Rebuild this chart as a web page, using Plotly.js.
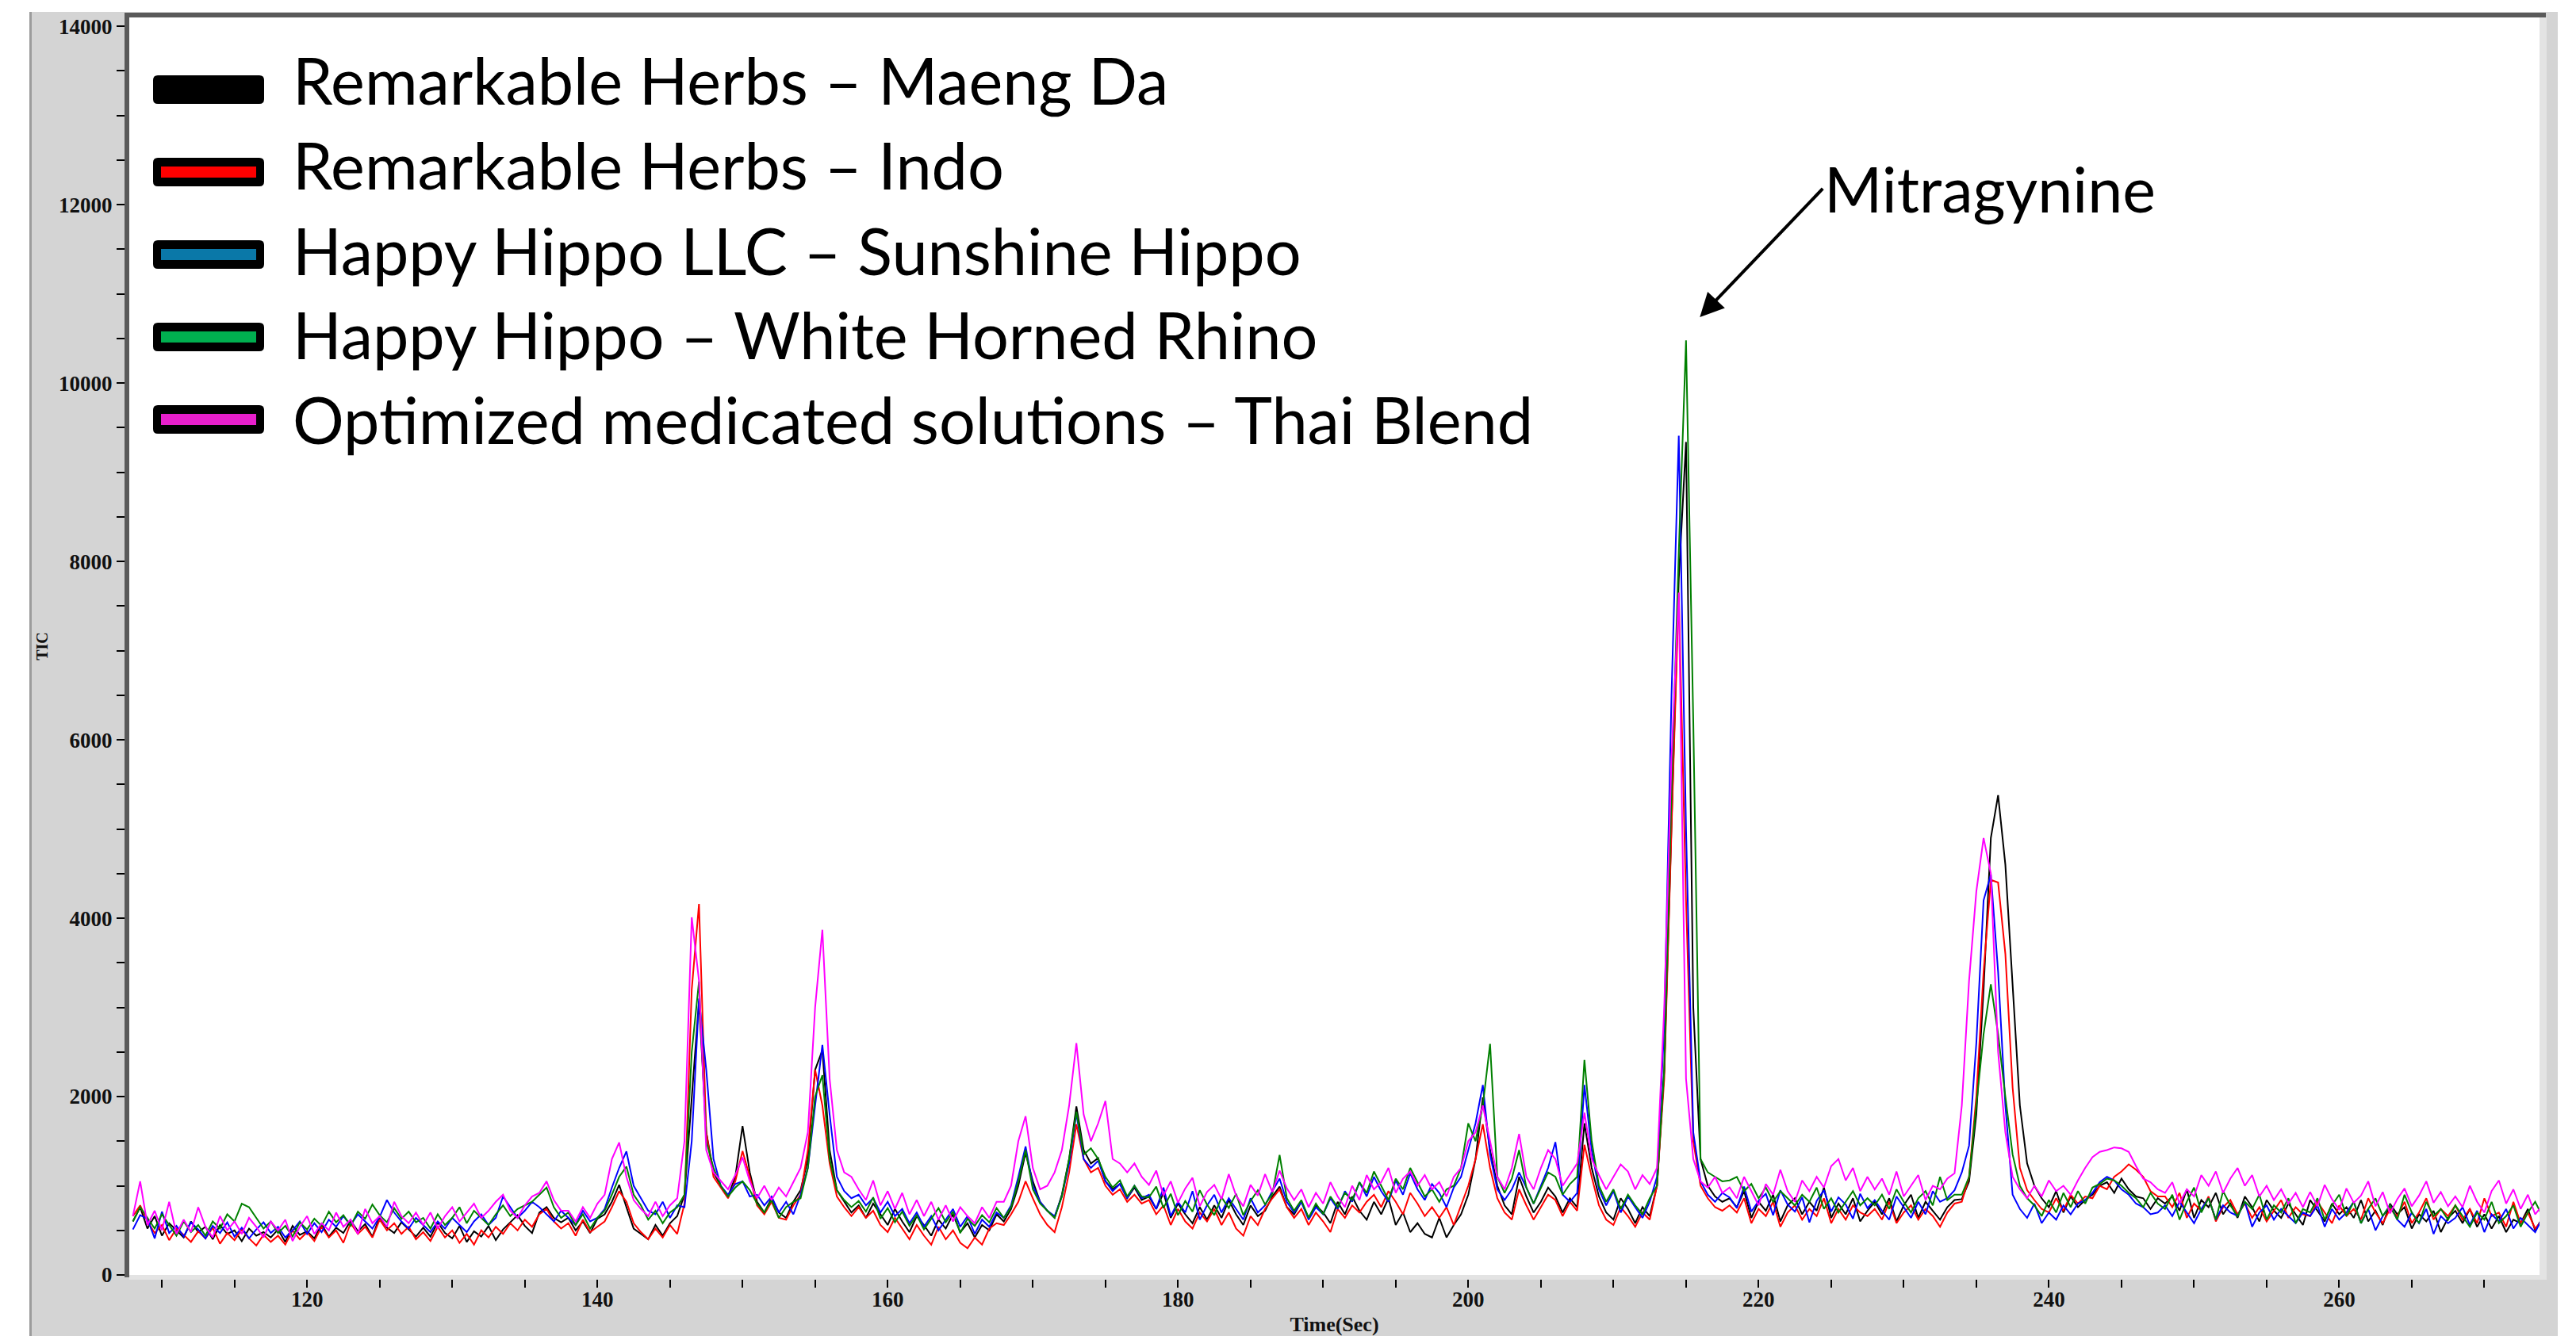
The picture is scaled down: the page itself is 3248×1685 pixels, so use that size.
<!DOCTYPE html>
<html>
<head>
<meta charset="utf-8">
<script src="https://cdn.plot.ly/plotly-3.0.1.min.js"></script>
<style>
html,body{margin:0;padding:0;background:#ffffff;}
#chart{width:3248px;height:1685px;}
</style>
</head>
<body>
<div id="chart"></div>
<script>
// ---------------- DATA (TIC counts, sampled every 0.5 s from 108 s) ----------------
const T_START = 108;
const T_STEP = 0.5;

const seriesNames = [
  'Remarkable Herbs \u2013 Maeng Da',
  'Remarkable Herbs \u2013 Indo',
  'Happy Hippo LLC \u2013 Sunshine Hippo',
  'Happy Hippo \u2013 White Horned Rhino',
  'Optimized medicated solutions \u2013 Thai Blend'
];

const maengDa = [
600,760,520,660,440,580,500,420,600,480,540,400,560,460,500,380,520,440,480,420,
510,370,550,450,490,410,570,430,530,470,610,490,570,430,650,530,470,590,510,430,
530,430,590,470,410,550,370,490,430,550,390,510,590,670,550,470,700,760,640,590,
640,500,600,470,630,680,820,1010,760,520,460,400,560,440,580,660,900,2000,3070,1600,
1150,1000,880,1100,1670,1150,820,700,860,700,640,820,950,1300,2300,2520,1400,950,820,700,
780,640,800,680,560,740,600,480,660,560,440,620,520,680,480,580,420,560,500,680,
600,740,1000,1370,1050,820,720,640,900,1300,1890,1400,1250,1310,1050,960,1020,860,980,840,
880,740,920,640,800,680,580,760,620,780,640,840,680,560,780,660,720,880,990,760,
680,820,640,780,700,580,820,680,880,720,620,820,680,860,560,700,480,580,460,420,
640,420,560,680,900,1300,1990,1400,1000,780,680,1100,880,700,820,980,880,700,860,760,
1700,1200,880,700,620,860,740,580,760,660,1000,2300,5000,7800,9340,3000,1300,1000,880,820,
860,760,940,640,820,720,900,600,780,860,680,820,720,980,640,800,680,860,600,720,
820,680,860,600,780,900,640,820,720,620,760,840,850,1050,1800,3200,4900,5380,4600,3300,
1900,1250,1000,860,760,940,700,880,760,840,900,1000,1040,920,1080,960,880,860,740,860,
800,880,720,960,640,840,760,920,680,800,640,880,760,600,840,720,640,800,680,560,
840,720,600,800,680,760,640,840,600,720,560,800,680,760,520,680,600,720,480,640,
720,580,740,540,680,520,660,480,620,580,740,500,640
];

const indo = [
660,780,600,470,560,390,520,450,370,490,410,530,350,470,390,510,410,330,450,370,
440,340,500,400,480,380,540,420,500,360,580,460,540,420,620,500,580,460,540,400,
480,380,540,420,500,360,460,340,500,420,540,460,580,500,620,540,680,740,600,520,
580,440,620,480,540,600,760,940,820,580,480,400,520,420,560,460,800,3200,4160,1600,
1100,980,860,1050,1390,1100,780,680,820,640,620,780,900,1400,2300,1900,1250,880,760,660,
760,640,720,560,480,640,520,400,560,440,340,540,400,500,360,300,420,340,520,580,
560,680,820,1050,860,680,560,480,760,1150,1690,1300,1150,1200,1000,900,960,820,900,800,
840,680,780,560,740,600,520,700,600,740,560,700,520,440,660,560,740,860,960,760,
640,740,560,700,600,480,740,640,780,700,820,900,760,940,820,680,920,800,660,760,
640,760,560,780,1000,1300,1690,1200,860,700,620,960,780,620,760,900,840,660,820,720,
1460,1100,780,620,560,760,660,540,700,620,1000,2200,5000,7650,4200,1500,1000,860,760,720,
780,700,860,580,740,660,820,540,700,780,620,740,660,860,580,740,620,780,700,660,
740,620,820,580,700,780,620,740,660,540,700,800,820,1100,2000,3400,4430,4400,3600,2100,
1200,950,840,740,700,860,720,900,800,880,860,1000,960,1100,1160,1240,1180,1100,940,880,
880,760,920,640,800,720,880,600,760,840,680,800,640,760,600,720,840,640,760,680,
660,820,700,580,780,660,740,620,860,700,580,740,660,820,580,700,860,620,740,660,
780,620,740,580,860,660,700,540,820,580,700,520,620
];

const sunshineHippo = [
510,670,630,410,710,470,550,430,590,510,410,550,470,590,430,530,410,510,590,470,
540,420,500,600,460,580,480,620,540,660,560,680,600,520,650,840,700,600,520,640,
560,480,600,520,640,560,480,600,680,560,640,880,760,640,720,820,760,680,600,720,
640,560,720,600,640,740,980,1200,1385,1000,860,720,680,820,640,780,760,1500,3100,2300,
1300,1000,900,1020,1050,880,900,780,880,700,820,680,900,1200,1900,2580,1800,1100,940,860,
900,780,860,700,820,660,740,580,700,540,660,500,620,740,540,660,460,620,540,700,
640,780,1100,1440,1000,820,720,660,880,1250,1810,1300,1200,1280,1050,940,1020,860,1000,860,
900,740,980,660,820,700,940,620,780,900,700,860,740,620,860,700,780,940,1080,820,
700,820,620,760,680,860,740,940,820,1040,880,1100,940,820,1060,900,1140,960,840,1020,
920,760,980,1100,1400,1700,2130,1350,960,840,960,1150,980,800,1000,1200,1490,900,820,920,
2130,1400,960,780,940,700,880,760,640,820,1100,2800,6500,9410,5000,1600,1050,900,820,920,
870,750,990,710,830,910,670,950,790,710,870,590,830,950,710,870,790,630,910,750,
840,720,620,880,760,640,820,680,940,820,860,950,1150,1450,2600,4200,4490,3400,1900,900,
740,640,800,580,700,620,780,680,800,840,920,1040,1100,1060,960,900,800,760,680,700,
780,660,820,700,580,740,860,620,780,700,660,820,540,700,780,620,740,660,580,700,
660,780,540,740,620,700,820,580,740,500,660,780,620,540,700,580,740,460,660,580,
640,760,560,720,480,680,600,740,520,640,560,480,640
];

const whiteHornedRhino = [
600,760,640,520,680,560,440,600,480,560,440,600,520,680,600,800,760,640,520,600,
470,550,430,590,510,630,550,710,590,670,550,710,630,790,670,590,750,630,710,590,
640,520,680,560,640,760,580,720,640,560,680,780,660,740,780,820,900,980,760,640,
700,560,680,520,640,720,900,1100,1215,900,780,620,720,580,700,760,900,2500,3290,1500,
1200,1000,880,980,1050,950,800,700,840,640,760,820,860,1200,2000,2240,1300,950,840,760,
830,710,870,630,750,590,710,550,670,510,630,750,590,710,470,630,550,670,590,750,
640,760,1050,1400,960,800,720,640,880,1300,1830,1350,1420,1300,1100,980,1060,880,1000,880,
870,990,750,910,670,830,710,950,790,670,870,750,910,670,830,950,790,910,1345,860,
720,840,640,800,680,880,760,920,840,1040,920,1160,1000,840,1080,960,1200,1040,880,960,
820,960,1000,1200,1700,1500,1900,2590,1100,920,1080,1400,980,800,980,1150,1100,900,1020,1100,
2410,1500,1000,820,960,740,900,780,680,860,1000,2300,5400,8100,10480,6200,1300,1150,1100,1050,
1060,1100,940,1020,860,980,820,940,860,780,900,820,980,740,860,700,820,940,780,860,
780,900,740,960,820,700,860,940,780,1100,840,900,900,1100,1900,2700,3260,2700,2000,1350,
1000,860,780,660,840,700,920,760,940,800,980,1020,1080,1060,1000,920,860,760,920,800,
740,900,620,820,980,700,860,620,940,780,660,820,740,900,620,780,700,860,580,740,
700,860,620,780,900,660,820,580,740,860,660,780,620,900,700,580,820,660,740,620,
780,660,540,700,620,820,580,660,780,540,700,820,660
];

const thaiBlend = [
660,1050,560,720,500,820,460,620,480,760,540,420,660,500,600,460,640,540,420,600,
500,620,380,540,660,460,580,500,700,540,620,460,740,580,660,540,820,660,580,700,
560,700,520,660,760,600,700,800,640,720,820,900,720,640,780,880,920,1050,840,720,
720,600,760,640,800,900,1300,1486,1100,840,740,660,820,660,780,860,1500,4010,3300,1400,
1150,1050,960,1120,1320,1050,860,1000,840,980,880,1040,1200,1600,3000,3870,2200,1400,1150,1100,
960,840,1060,780,940,740,920,680,840,660,820,620,780,600,760,660,580,760,640,820,
820,1000,1500,1780,1200,960,1000,1150,1400,1900,2600,1800,1500,1700,1950,1300,1250,1150,1250,1100,
1010,1170,890,1050,810,970,1090,770,930,1010,850,1130,890,770,1010,890,1130,930,1170,970,
840,960,760,920,800,1040,880,760,1000,840,1120,960,1040,1200,920,1080,1160,1000,1120,960,
1040,880,1100,1200,1500,1600,1900,1500,1100,960,1200,1580,1100,960,1200,1400,1300,1000,1120,1250,
1820,1300,1120,960,1100,1240,1160,960,1120,1020,1200,3000,5800,7650,2200,1300,1050,980,1100,920,
980,860,1100,940,780,1020,900,1180,940,820,1060,940,1100,980,1220,1300,1060,1200,940,1100,
960,1080,900,1160,880,1000,1120,840,1000,960,1080,1140,1900,3300,4300,4900,4500,2500,1600,1100,
960,860,1000,880,1060,940,1000,900,1060,1200,1320,1380,1400,1430,1420,1380,1220,1080,1040,960,
920,1040,800,960,880,1120,1000,1160,920,1080,1200,1000,1120,880,1000,840,960,800,920,760,
930,770,1010,850,730,970,810,890,1050,770,930,690,850,970,770,890,1050,810,930,770,
880,760,1000,820,700,940,1060,800,960,740,900,680,780
];

const seriesValues = [maengDa, indo, sunshineHippo, whiteHornedRhino, thaiBlend];

const xTickVals = [120, 140, 160, 180, 200, 220, 240, 260];
const yTickVals = [0, 2000, 4000, 6000, 8000, 10000, 12000, 14000];
const xTickText = ['120', '140', '160', '180', '200', '220', '240', '260'];
const yTickText = ['0', '2000', '4000', '6000', '8000', '10000', '12000', '14000'];

const peakName = 'Mitragynine';
const peakTime = 215.95;
const peakLevel = 10740;

// ---------------- STYLE ----------------
const lineColors = ['#000000', '#ff0000', '#0000ff', '#008000', '#ff00ff'];
const legendFill = ['#000000', '#ff0000', '#0a78a8', '#00b050', '#e81fcc'];

const W = 3248, H = 1685;
const ML = 163, MR = 46, MT = 22, MB = 77;
const PW = W - ML - MR, PH = H - MT - MB;
const fx = px => (px - ML) / PW;
const fy = py => (H - MB - py) / PH;

const traces = seriesValues.map((vals, i) => ({
  type: 'scatter',
  mode: 'lines',
  name: seriesNames[i],
  x0: T_START,
  dx: T_STEP,
  y: vals,
  line: {color: lineColors[i], width: 2},
  showlegend: false,
  hoverinfo: 'skip'
}));

function roundRect(x0, y0, x1, y1, r) {
  const X0 = fx(x0), X1 = fx(x1), Y0 = fy(y1), Y1 = fy(y0);
  const rx = r / PW, ry = r / PH;
  return 'M' + (X0 + rx) + ',' + Y0 + ' L' + (X1 - rx) + ',' + Y0 +
    ' Q' + X1 + ',' + Y0 + ' ' + X1 + ',' + (Y0 + ry) +
    ' L' + X1 + ',' + (Y1 - ry) + ' Q' + X1 + ',' + Y1 + ' ' + (X1 - rx) + ',' + Y1 +
    ' L' + (X0 + rx) + ',' + Y1 + ' Q' + X0 + ',' + Y1 + ' ' + X0 + ',' + (Y1 - ry) +
    ' L' + X0 + ',' + (Y0 + ry) + ' Q' + X0 + ',' + Y0 + ' ' + (X0 + rx) + ',' + Y0 + ' Z';
}

const shapes = [
  // white page around the grey instrument panel (outside the plot area)
  {type: 'rect', xref: 'paper', yref: 'paper', layer: 'below',
   x0: fx(0), x1: fx(37), y0: fy(H), y1: fy(0),
   fillcolor: '#ffffff', line: {width: 0}},
  {type: 'rect', xref: 'paper', yref: 'paper', layer: 'below',
   x0: fx(3225), x1: fx(W), y0: fy(H), y1: fy(0),
   fillcolor: '#ffffff', line: {width: 0}},
  {type: 'rect', xref: 'paper', yref: 'paper', layer: 'below',
   x0: fx(0), x1: fx(W), y0: fy(15), y1: fy(0),
   fillcolor: '#ffffff', line: {width: 0}},
  {type: 'rect', xref: 'paper', yref: 'paper', layer: 'below',
   x0: fx(37), x1: fx(40), y0: fy(H), y1: fy(15),
   fillcolor: '#9c9c9c', line: {width: 0}},
  // plot frame: dark left/top, light right/bottom
  {type: 'rect', xref: 'paper', yref: 'paper', layer: 'above',
   x0: fx(157), x1: fx(163), y0: fy(1611), y1: fy(16),
   fillcolor: '#5a5a5a', line: {width: 0}},
  {type: 'rect', xref: 'paper', yref: 'paper', layer: 'above',
   x0: fx(157), x1: fx(3210), y0: fy(22), y1: fy(16),
   fillcolor: '#5a5a5a', line: {width: 0}},
  {type: 'rect', xref: 'paper', yref: 'paper', layer: 'above',
   x0: fx(3202), x1: fx(3211), y0: fy(1614), y1: fy(22),
   fillcolor: '#e3e3e3', line: {width: 0}},
  {type: 'rect', xref: 'paper', yref: 'paper', layer: 'above',
   x0: fx(163), x1: fx(3211), y0: fy(1614), y1: fy(1608),
   fillcolor: '#e3e3e3', line: {width: 0}}
];

const legendTextY = [101, 208, 315, 421, 528];
const annotations = [];
seriesNames.forEach((name, k) => {
  const c = 113 + 104 * k;
  shapes.push({type: 'path', xref: 'paper', yref: 'paper', layer: 'above',
    path: roundRect(193, c - 18, 333, c + 18, 6),
    fillcolor: '#000000', line: {width: 0}});
  shapes.push({type: 'rect', xref: 'paper', yref: 'paper', layer: 'above',
    x0: fx(203), x1: fx(323), y0: fy(c + 7), y1: fy(c - 7),
    fillcolor: legendFill[k], line: {width: 0}});
  annotations.push({xref: 'paper', yref: 'paper', x: fx(367), y: fy(legendTextY[k]),
    xanchor: 'left', yanchor: 'middle', showarrow: false, text: name,
    font: {family: 'Lato', size: 81, color: '#000000'}});
});

annotations.push({
  xref: 'x', yref: 'y', x: peakTime, y: peakLevel,
  text: peakName, showarrow: true, arrowhead: 2, arrowsize: 1.5, arrowwidth: 4,
  arrowcolor: '#000000', ax: 155, ay: -162, xanchor: 'left', yanchor: 'middle',
  font: {family: 'Lato', size: 79, color: '#000000'}
});

const tickFont = {family: 'Liberation Serif', size: 27, color: '#111111', weight: 'bold'};

const layout = {
  width: W, height: H,
  margin: {l: ML, r: MR, t: MT, b: MB, pad: 0},
  paper_bgcolor: '#d4d4d4',
  plot_bgcolor: '#ffffff',
  showlegend: false,
  xaxis: {
    range: [107.75, 273.8], autorange: false,
    tickmode: 'array', tickvals: xTickVals, ticktext: xTickText,
    ticks: 'outside', ticklen: 15, tickwidth: 2, tickcolor: '#000000',
    minor: {tickmode: 'linear', tick0: 0, dtick: 5, ticks: 'outside', ticklen: 15, tickwidth: 2, tickcolor: '#000000'},
    showgrid: false, zeroline: false, showline: false, automargin: false,
    tickfont: tickFont, ticklabelstandoff: -8,
    title: {text: 'Time(Sec)', standoff: 12,
            font: {family: 'Liberation Serif', size: 26, color: '#111111', weight: 'bold'}}
  },
  yaxis: {
    range: [0, 14100], autorange: false,
    tickmode: 'array', tickvals: yTickVals, ticktext: yTickText,
    ticks: 'outside', ticklen: 15, tickwidth: 2, tickcolor: '#000000',
    minor: {tickmode: 'linear', tick0: 0, dtick: 500, ticks: 'outside', ticklen: 15, tickwidth: 2, tickcolor: '#000000'},
    showgrid: false, zeroline: false, showline: false, automargin: false,
    tickfont: tickFont,
    title: {text: 'TIC', standoff: 8,
            font: {family: 'Liberation Serif', size: 20, color: '#111111', weight: 'bold'}}
  },
  shapes: shapes,
  annotations: annotations
};

Plotly.newPlot('chart', traces, layout, {displayModeBar: false, responsive: false});
</script>
</body>
</html>
